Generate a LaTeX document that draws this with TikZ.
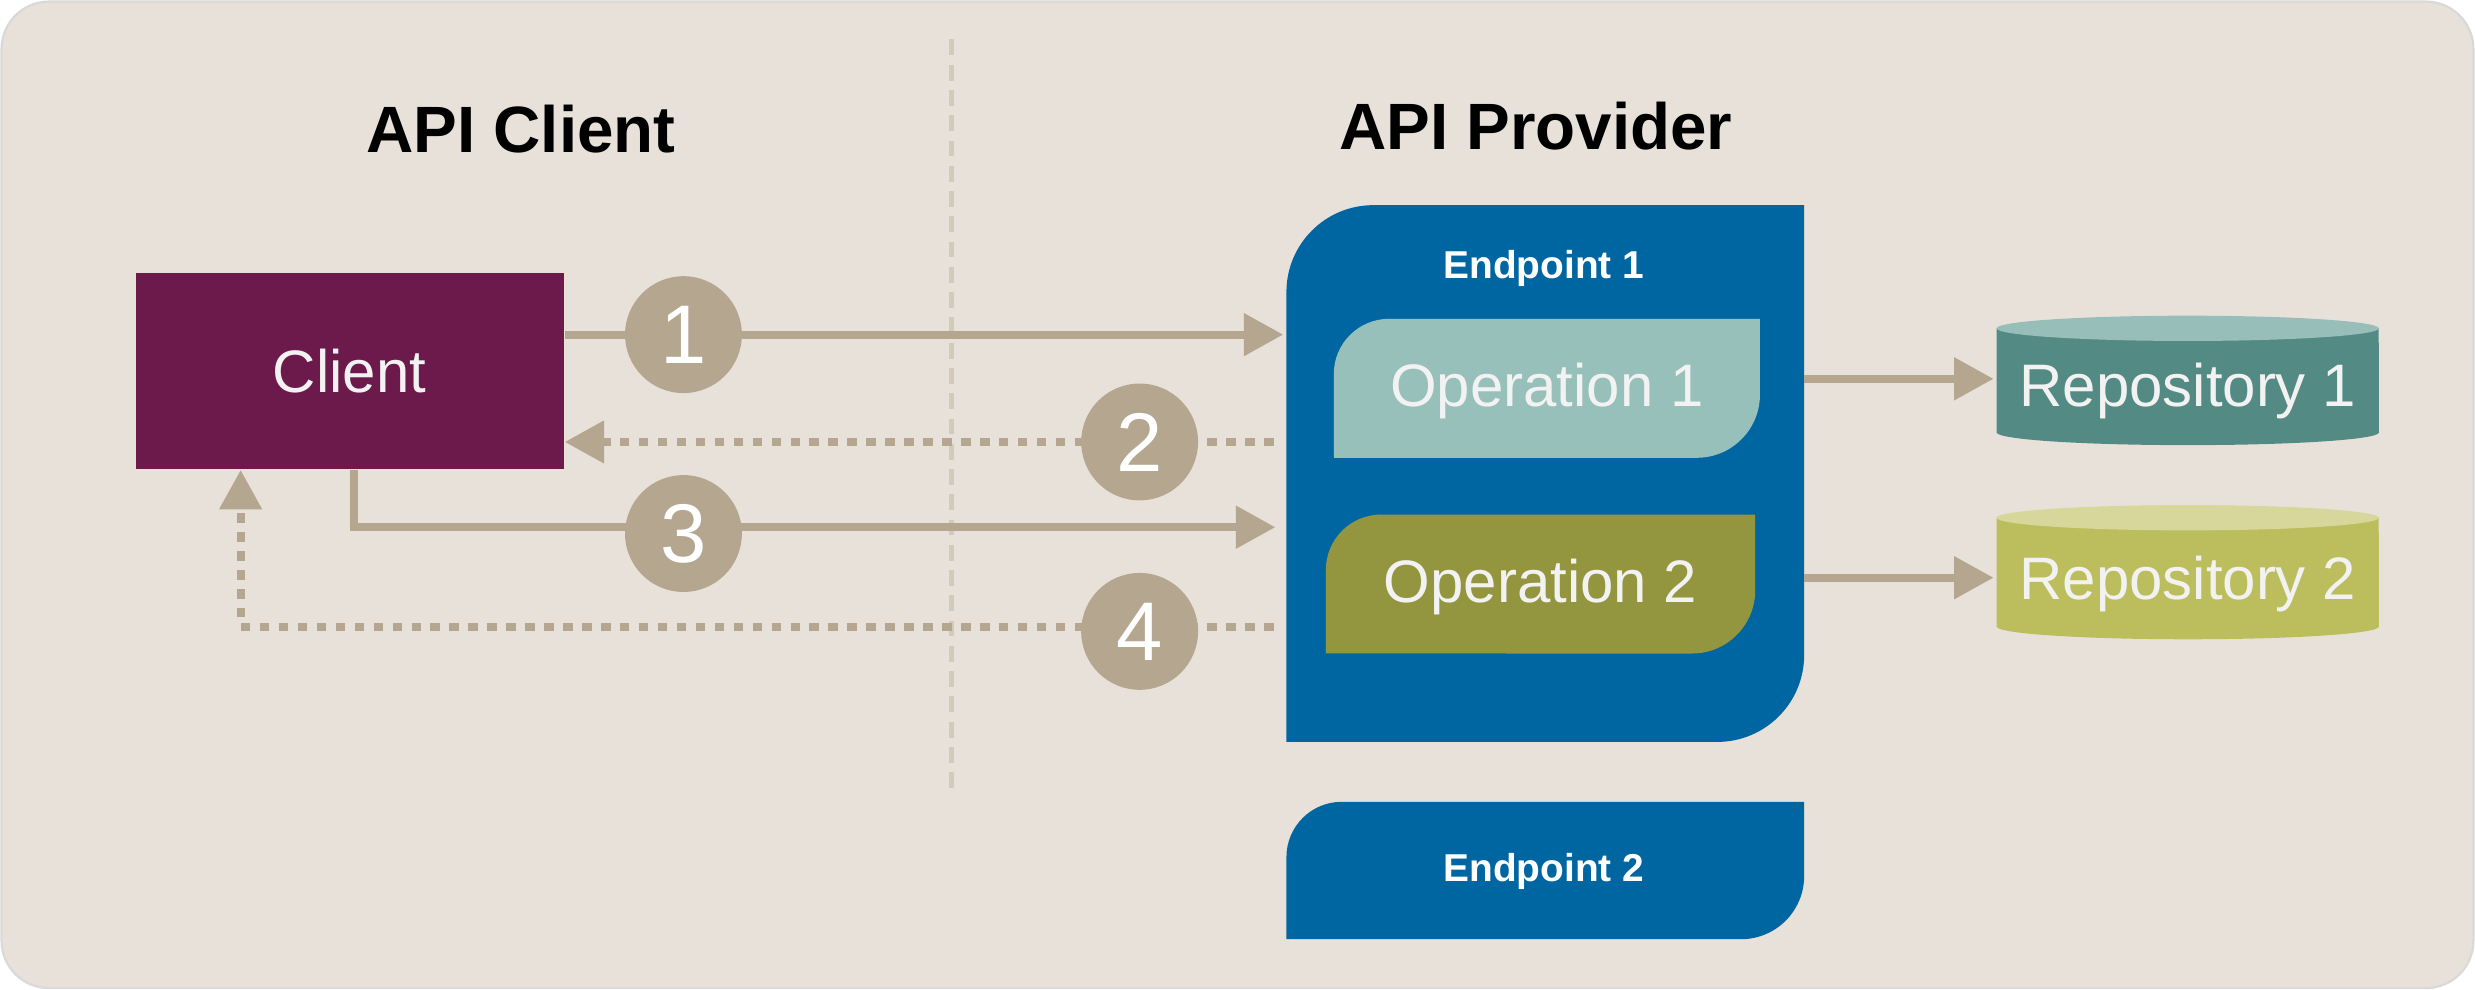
\documentclass[tikz,border=0pt]{standalone}
\usepackage{fontspec}
\setmainfont{Liberation Sans}
\usetikzlibrary{arrows.meta}
\definecolor{bgcol}{HTML}{E8E1DA}
\definecolor{flowcol}{HTML}{B5A690}
\definecolor{clientcol}{HTML}{6B1A4B}
\definecolor{epcol}{HTML}{0066A2}
\definecolor{opAcol}{HTML}{97C0BB}
\definecolor{opBcol}{HTML}{94963F}
\definecolor{repAcol}{HTML}{538B84}
\definecolor{repAtop}{HTML}{97BEB8}
\definecolor{repBcol}{HTML}{BCBE5D}
\definecolor{repBtop}{HTML}{D8D79B}
\tikzset{
  flow/.style={draw=flowcol, line width=0.05cm, -{Triangle[length=0.25cm,width=0.26cm]}},
  reply/.style={flow, dash pattern=on 0.06cm off 0.06cm},
  stepnum/.style={circle, fill=flowcol, minimum size=0.74cm, inner sep=0pt, text=white, font=\fontsize{15}{15}\selectfont},
  title/.style={font=\fontsize{11.8}{14}\selectfont\bfseries},
  label/.style={text=white!95!black, font=\fontsize{10.8}{13}\selectfont},
  eplabel/.style={text=white, font=\fontsize{7}{9}\selectfont\bfseries}
}
\begin{document}
\begin{tikzpicture}[x=0.01cm, y=-0.01cm]
  \useasboundingbox (0,0) rectangle (1568,627);
  \fill[bgcol, draw=black!15, rounded corners=0.3cm] (1,1) rectangle (1567,626);
  \draw[flowcol!60, line width=0.03cm, dash pattern=on 0.1cm off 0.06cm] (603,25) -- (603,500);

  \node[title] (clienttitle) at (330,82) {API Client};
  \node[title] (providertitle) at (973,80) {API Provider};

  % client
  \node[fill=clientcol, minimum width=2.71cm, minimum height=1.24cm, label] (client) at (221.5,235) {Client};

  % endpoints
  \fill[epcol] (815,470) -- (815,185) arc[start angle=180, end angle=90, radius=0.55cm]
    -- (1143,130) -- (1143,415) arc[start angle=0, end angle=-90, radius=0.55cm] -- cycle;
  \node[eplabel] (ep1) at (978,170) {Endpoint 1};
  \fill[epcol] (815,595) -- (815,543) arc[start angle=180, end angle=90, radius=0.35cm]
    -- (1143,508) -- (1143,555) arc[start angle=0, end angle=-90, radius=0.4cm] -- cycle;
  \node[eplabel] (ep2) at (978,552) {Endpoint 2};

  % operations
  \fill[opAcol] (845,290) -- (845,237) arc[start angle=180, end angle=90, radius=0.35cm]
    -- (1115,202) -- (1115,250) arc[start angle=0, end angle=-90, radius=0.4cm] -- cycle;
  \node[label] (opA) at (980,248) {Operation 1};
  \fill[opBcol] (840,414) -- (840,361) arc[start angle=180, end angle=90, radius=0.35cm]
    -- (1112,326) -- (1112,374) arc[start angle=0, end angle=-90, radius=0.4cm] -- cycle;
  \node[label] (opB) at (976,372) {Operation 2};

  % repositories
  \fill[repAcol] (1265,208) -- (1265,274) arc[x radius=1.21cm, y radius=0.08cm, start angle=180, end angle=360]
    -- (1507,208) -- cycle;
  \fill[repAtop] (1386,208) ellipse[x radius=1.21cm, y radius=0.08cm];
  \node[label] (repoA) at (1386,248) {Repository 1};
  \fill[repBcol] (1265,328) -- (1265,397) arc[x radius=1.21cm, y radius=0.08cm, start angle=180, end angle=360]
    -- (1507,328) -- cycle;
  \fill[repBtop] (1386,328) ellipse[x radius=1.21cm, y radius=0.08cm];
  \node[label] (repoB) at (1386,370) {Repository 2};

  % flows
  \coordinate (reqA) at (813,212);
  \coordinate (resA) at (807,280);
  \coordinate (reqB) at (808,334);
  \coordinate (resB) at (807,397);
  \coordinate (dbA) at (1263,240);
  \coordinate (dbB) at (1263,366);
  \draw[flow] (client.east |- reqA) -- (reqA);
  \draw[reply] (resA) -- (client.east |- resA);
  \draw[flow] ([xshift=0.03cm]client.south) |- (reqB);
  \draw[reply] (resB) -| ([xshift=-0.69cm]client.south);
  \node[stepnum] (s1) at (433,212) {1};
  \node[stepnum] (s2) at (722,280) {2};
  \node[stepnum] (s3) at (433,338) {3};
  \node[stepnum] (s4) at (722,400) {4};

  \draw[flow] (1143,240) -- (dbA);
  \draw[flow] (1143,366) -- (dbB);
\end{tikzpicture}
\end{document}
